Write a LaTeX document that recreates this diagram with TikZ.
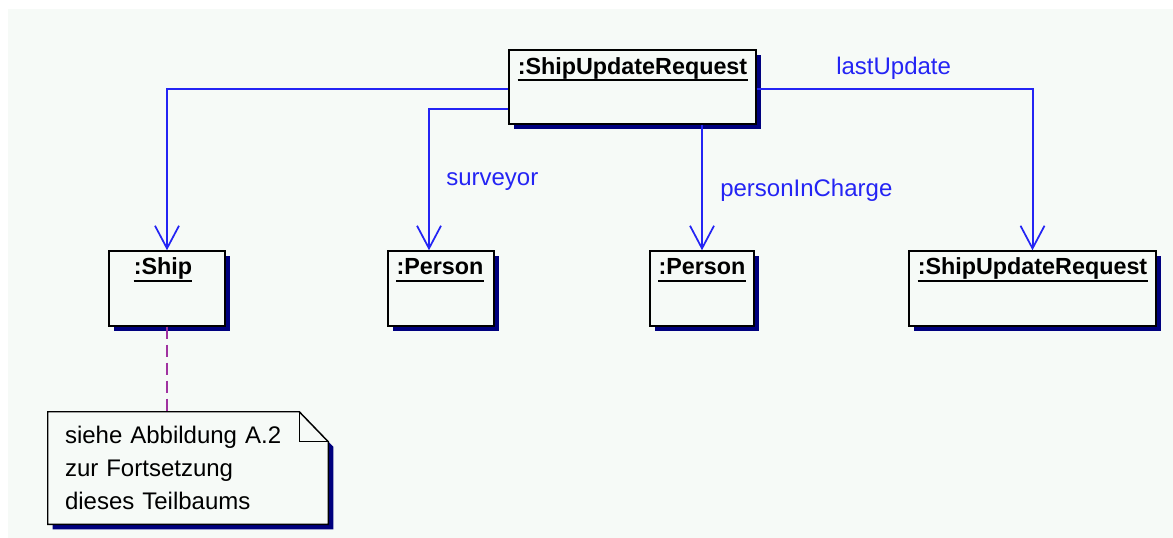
\documentclass[tikz,border=0pt]{standalone}
\usepackage{fontspec}
\setmainfont{Liberation Sans}
\usetikzlibrary{arrows.meta,calc,shadows,backgrounds}
\definecolor{paper}{HTML}{F6FAF7}
\definecolor{linkblue}{HTML}{2424F4}
\definecolor{navyshade}{HTML}{00007E}
\definecolor{notelink}{HTML}{A032A0}

\begin{document}
\begin{tikzpicture}[x=0.75pt,y=-0.75pt,
  obj/.style={draw=black, line width=1.1pt, fill=paper, inner sep=0pt,
    minimum height=56.25pt,
    general shadow={fill=navyshade, shadow xshift=3.75pt, shadow yshift=-3.75pt}},
  objname/.style={font=\fontsize{17.5pt}{21pt}\selectfont\bfseries,
    anchor=base, inner sep=0pt},
  underl/.style={draw=black, line width=1.2pt},
  assoc/.style={draw=linkblue, line width=1.5pt,
    -{Straight Barb[length=17pt,width=18pt,line width=1.3pt]}},
  role/.style={text=linkblue, font=\fontsize{18pt}{22pt}\selectfont,
    inner sep=0pt, anchor=base west},
  notebox/.style={inner xsep=12.75pt, inner ysep=0pt,
    minimum width=210pt, minimum height=84pt, text width=184.5pt,
    align=left, font=\fontsize{18pt}{24.75pt}\selectfont},
  anchorlink/.style={draw=notelink, line width=1.3pt, dash pattern=on 9pt off 4.5pt},
  ]
\useasboundingbox (0,0) rectangle (1173,538);

% canvas
\begin{scope}[on background layer]
  \fill[white] (0,0) rectangle (1173,538);
  \fill[paper] (8,9) rectangle (1173,538);
\end{scope}

% objects
\node[obj, minimum width=185.25pt, minimum height=55.5pt] (top) at (632.5,87) {};
\node[obj, minimum width=87pt]     (ship) at (167,288.5) {};
\node[obj, minimum width=79.5pt]   (p1)   at (441,288.5) {};
\node[obj, minimum width=78pt]     (p2)   at (702,288.5) {};
\node[obj, minimum width=185.25pt] (sur2) at (1032.5,288.5) {};

% object names
\node[objname] (topname)  at ($(top.north)+(0,25)$)  {:ShipUpdateRequest};
\node[objname] (shipname) at ($(ship.north)+(-4,24.5)$) {:Ship};
\node[objname] (p1name)   at ($(p1.north)+(-1,24.5)$)   {:Person};
\node[objname] (p2name)   at ($(p2.north)+(0,24.5)$)   {:Person};
\node[objname] (sur2name) at ($(sur2.north)+(0,24.5)$) {:ShipUpdateRequest};
\foreach \n in {topname,shipname,p1name,p2name,sur2name}
  \draw[underl] ($(\n.base west)+(0,6)$) -- ($(\n.base east)+(0,6)$);

% links
\draw[assoc] ($(top.north west)+(0,40)$) -| (ship.north);
\draw[assoc] ($(top.north west)+(0,60)$) -| ($(p1.north)+(-12,0)$);
\draw[assoc] (top.south -| p2.north) -- (p2.north);
\draw[assoc] ($(top.north east)+(0,40)$) -| (sur2.north);

% role names
\node[role] (surveyor) at (446,186) {surveyor};
\node[role] (charge)   at (720,197) {personInCharge};
\node[role] (lastupd)  at (836,75)  {lastUpdate};

% note
\node[notebox] (note) at (188,468)
  {siehe Abbildung A.2\\zur Fortsetzung\\dieses Teilbaums};
\begin{scope}[on background layer]
  \fill[navyshade] ($(note.north west)+(5,5)$) -- ($(note.north east)+(-24,5)$)
    -- ($(note.north east)+(5,35)$) -- ($(note.south east)+(5,5)$)
    -- ($(note.south west)+(5,5)$) -- cycle;
  \filldraw[fill=paper, draw=black, line width=1.1pt]
    (note.north west) -- ($(note.north east)+(-29,0)$)
    -- ($(note.north east)+(0,30)$) -- (note.south east)
    -- (note.south west) -- cycle;
  \draw[black, line width=1.1pt] ($(note.north east)+(-29,0)$)
    -- ($(note.north east)+(-29,30)$) -- ($(note.north east)+(0,30)$);
\end{scope}
\draw[anchorlink] (ship.south) -- (ship.south |- note.north);
\end{tikzpicture}
\end{document}
